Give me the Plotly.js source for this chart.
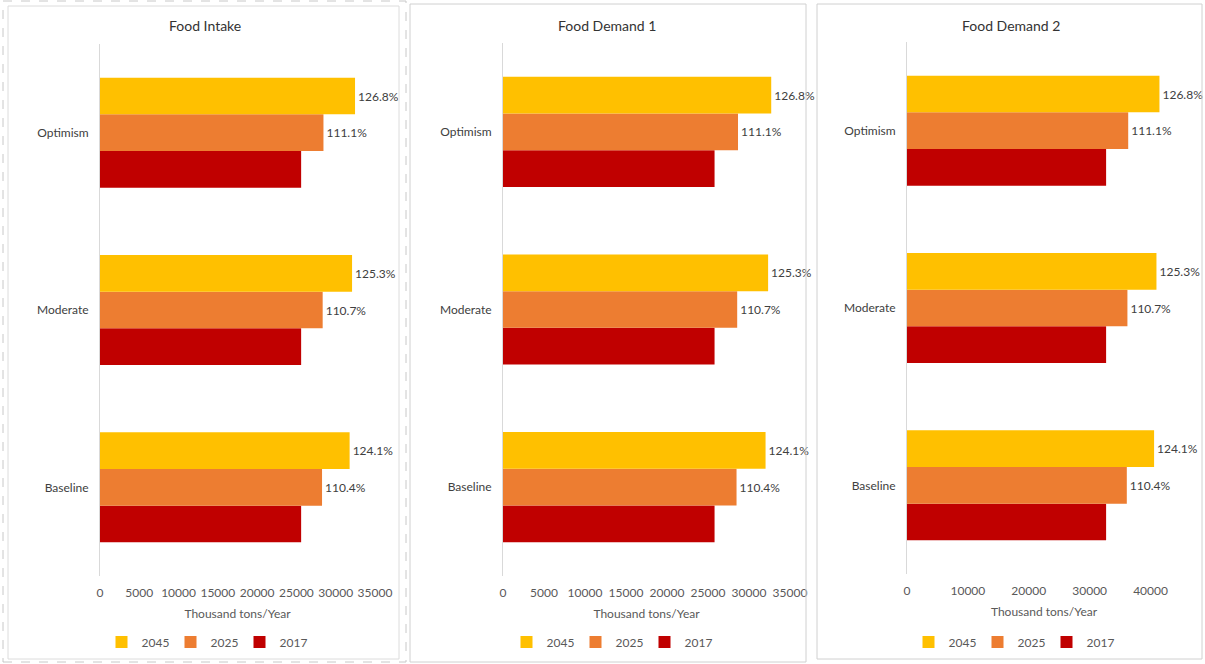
<!DOCTYPE html>
<html>
<head>
<meta charset="utf-8">
<script src="https://cdn.plot.ly/plotly-3.0.1.min.js"></script>
<style>html,body{margin:0;padding:0;background:#fff;}#chart{width:1205px;height:664px;}</style>
</head>
<body>
<div id="chart"></div>
<script>
// Categories (bottom to top)
const categories = ['Baseline', 'Moderate', 'Optimism'];
const years = ['2017', '2025', '2045'];
const panelTitles = ['Food Intake', 'Food Demand 1', 'Food Demand 2'];
const axisTitle = 'Thousand tons/Year';

// Food Intake (thousand tons/year)
const intake2017 = [25600, 25600, 25600];
const intake2025 = [28260, 28340, 28440];
const intake2045 = [31770, 32080, 32460];

// Food Demand 1
const demand1_2017 = [25800, 25800, 25800];
const demand1_2025 = [28480, 28560, 28660];
const demand1_2045 = [32020, 32330, 32710];

// Food Demand 2
const demand2_2017 = [32700, 32700, 32700];
const demand2_2025 = [36100, 36200, 36330];
const demand2_2045 = [40580, 40970, 41460];

// Percent labels relative to 2017
const pct2025 = ['110.4%', '110.7%', '111.1%'];
const pct2045 = ['124.1%', '125.3%', '126.8%'];

const colors = {'2017': '#C00000', '2025': '#ED7D31', '2045': '#FFC000'};
const W = 1205, H = 664;
const FONT = 'Lato, "Open Sans", sans-serif';
const px = v => v / W;
const py = v => 1 - v / H;

const panels = [
  {series: [intake2017, intake2025, intake2045], x: [100, 375], y: [44, 576], range: [0, 35000], dtick: 5000, legendX: 205},
  {series: [demand1_2017, demand1_2025, demand1_2045], x: [503, 790], y: [43, 576], range: [0, 35000], dtick: 5000, legendX: 610},
  {series: [demand2_2017, demand2_2025, demand2_2045], x: [907, 1181], y: [42, 574], range: [0, 45000], dtick: 10000, legendX: 1012}
];

const traces = [];
const layout = {
  width: W, height: H,
  margin: {l: 0, r: 0, t: 0, b: 0},
  paper_bgcolor: '#fff', plot_bgcolor: '#fff',
  font: {family: FONT, size: 12, color: '#404040'},
  barmode: 'group', bargap: 0.38, bargroupgap: 0,
  showlegend: true,
  annotations: [], shapes: []
};

panels.forEach((p, i) => {
  const n = i === 0 ? '' : String(i + 1);
  const xa = 'x' + n, ya = 'y' + n;
  const lg = 'legend' + n;
  const labels = [null, pct2025, pct2045];
  years.forEach((yr, k) => {
    traces.push({
      type: 'bar', orientation: 'h',
      y: categories, x: p.series[k],
      name: yr, xaxis: xa, yaxis: ya, legend: lg,
      marker: {color: colors[yr], line: {width: 0}},
      text: labels[k] || undefined,
      textposition: labels[k] ? 'outside' : 'none',
      textfont: {family: FONT, size: 12, color: '#404040'},
      cliponaxis: false, constraintext: 'none',
      hoverinfo: 'x+y+name'
    });
  });
  layout['xaxis' + n] = {
    domain: [px(p.x[0]), px(p.x[1])], anchor: ya,
    range: p.range, dtick: p.dtick, tick0: 0, tickformat: 'd',
    showgrid: false, zeroline: false, showline: false,
    ticks: '', ticklabelstandoff: 8,
    tickfont: {family: FONT, size: 12, color: '#595959'},
    title: {text: axisTitle, font: {family: FONT, size: 12, color: '#595959'}, standoff: 10},
    fixedrange: true
  };
  layout['yaxis' + n] = {
    domain: [py(p.y[1]), py(p.y[0])], anchor: xa,
    type: 'category',
    showgrid: false, zeroline: false,
    showline: true, linecolor: '#d9d9d9', linewidth: 1,
    ticks: '', ticklabelstandoff: 8,
    tickfont: {family: FONT, size: 12, color: '#404040'},
    fixedrange: true
  };
  layout[lg] = {
    orientation: 'h', traceorder: 'reversed',
    x: px(p.legendX), xanchor: 'center',
    y: py(642), yanchor: 'middle',
    font: {family: FONT, size: 12, color: '#595959'},
    bgcolor: 'rgba(0,0,0,0)', itemwidth: 30, entrywidth: 24, tracegroupgap: 0
  };
  layout.annotations.push({
    text: panelTitles[i], xref: 'paper', yref: 'paper',
    x: px([205, 607, 1011][i]), y: py(25), xanchor: 'center', yanchor: 'middle',
    showarrow: false, font: {family: FONT, size: 14, color: '#333333'}
  });
});

// Panel frames
layout.shapes.push(
  {type: 'rect', xref: 'paper', yref: 'paper', x0: px(3), x1: px(406), y0: py(662), y1: py(1),
   line: {color: '#c8c8c8', width: 1, dash: 'dash'}},
  {type: 'rect', xref: 'paper', yref: 'paper', x0: px(8), x1: px(399), y0: py(659), y1: py(6),
   line: {color: '#dcdcdc', width: 1}},
  {type: 'rect', xref: 'paper', yref: 'paper', x0: px(410), x1: px(806), y0: py(662), y1: py(4),
   line: {color: '#d0d0d0', width: 1}},
  {type: 'rect', xref: 'paper', yref: 'paper', x0: px(817), x1: px(1202), y0: py(659), y1: py(4),
   line: {color: '#d0d0d0', width: 1}}
);

Plotly.newPlot('chart', traces, layout, {displayModeBar: false, staticPlot: true});
</script>
</body>
</html>
